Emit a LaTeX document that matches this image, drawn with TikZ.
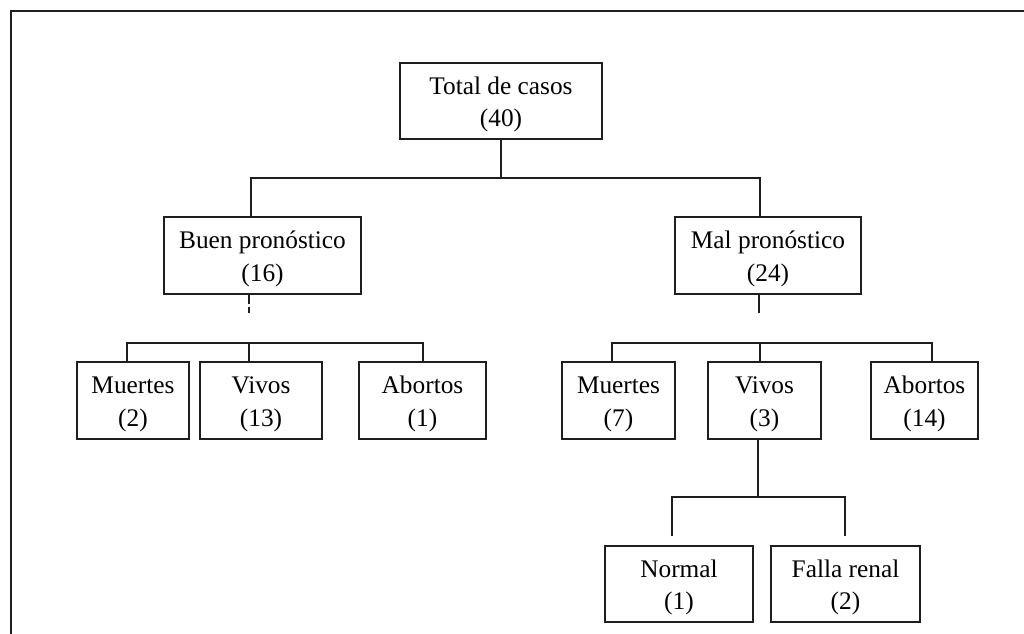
\documentclass[tikz,border=0pt]{standalone}
\usepackage{fontspec}
\setmainfont{Liberation Serif}
% invisible strut that sets the text a little lower in each box
\newcommand\toprule{\rule{0pt}{18.5pt}}
\begin{document}
\begin{tikzpicture}[x=0.75pt,y=-0.75pt,
  ink/.style={draw=black!88, line width=1.2pt},
  box/.style={ink, rectangle, align=center, inner sep=0pt,
    minimum height=57.5pt, font=\fontsize{19}{24.5}\selectfont},
  link/.style={ink, line cap=butt}]
\useasboundingbox (0,0) rectangle (1024,634);
% outer frame (open at right and bottom)
\coordinate (fTL) at (11,11);
\coordinate (fTR) at (1024,11);
\coordinate (fBL) at (11,634);
\draw[ink] (fBL) -- (fTL) -- (fTR);

% boxes
\node[box, minimum width=151.5pt, minimum height=57pt] (total) at (501,101) {\toprule Total de casos\\(40)};
\node[box, minimum width=147.75pt] (buen) at (262.5,255.5) {\toprule Buen pronóstico\\(16)};
\node[box, minimum width=139.5pt] (mal) at (768,255.5) {\toprule Mal pronóstico\\(24)};
\node[box, minimum width=84pt] (lmue) at (133,400.5) {\toprule Muertes\\(2)};
\node[box, minimum width=91.5pt] (lviv) at (261,400.5) {\toprule Vivos\\(13)};
\node[box, minimum width=95.25pt] (labo) at (422.5,400.5) {\toprule Abortos\\(1)};
\node[box, minimum width=84.75pt] (rmue) at (618.5,400.5) {\toprule Muertes\\(7)};
\node[box, minimum width=84.75pt] (rviv) at (764.5,400.5) {\toprule Vivos\\(3)};
\node[box, minimum width=80.25pt] (rabo) at (924.5,400.5) {\toprule Abortos\\(14)};
\node[box, minimum width=111pt, minimum height=57pt] (norm) at (679,584) {\toprule Normal\\(1)};
\node[box, minimum width=111.75pt, minimum height=57pt] (falla) at (845.5,584) {\toprule Falla renal\\(2)};

% first level: total -> prognosis groups
\coordinate (t1) at (251,178);
\coordinate (t2) at (760,178);
\draw[link] (total.south) -- (total.south |- t1);
\draw[link] (buen.north -| t1) -- (t1) -- (t2) -- (mal.north -| t2);

% short stubs below the prognosis boxes
\coordinate (bs) at (249,313);
\coordinate (ms) at (759,313);
\draw[link, dash pattern=on 7pt off 2.5pt] (buen.south -| bs) -- (bs);
\draw[link] (mal.south -| ms) -- (ms);

% second level, left branch
\coordinate (l1) at (127,343);
\coordinate (l2) at (249,343);
\coordinate (l3) at (423,343);
\draw[link] (lmue.north -| l1) -- (l1) -- (l3) -- (labo.north -| l3);
\draw[link] (l2) -- (lviv.north -| l2);

% second level, right branch
\coordinate (r1) at (612,343);
\coordinate (r2) at (760,343);
\coordinate (r3) at (932,343);
\draw[link] (rmue.north -| r1) -- (r1) -- (r3) -- (rabo.north -| r3);
\draw[link] (r2) -- (rviv.north -| r2);

% third level under the living cases
\coordinate (v0) at (758,497);
\coordinate (v1) at (672,497);
\coordinate (v2) at (845,497);
\coordinate (v1e) at (672,536);
\coordinate (v2e) at (845,536);
\draw[link] (rviv.south -| v0) -- (v0);
\draw[link] (v1e) -- (v1) -- (v2) -- (v2e);
\end{tikzpicture}
\end{document}
